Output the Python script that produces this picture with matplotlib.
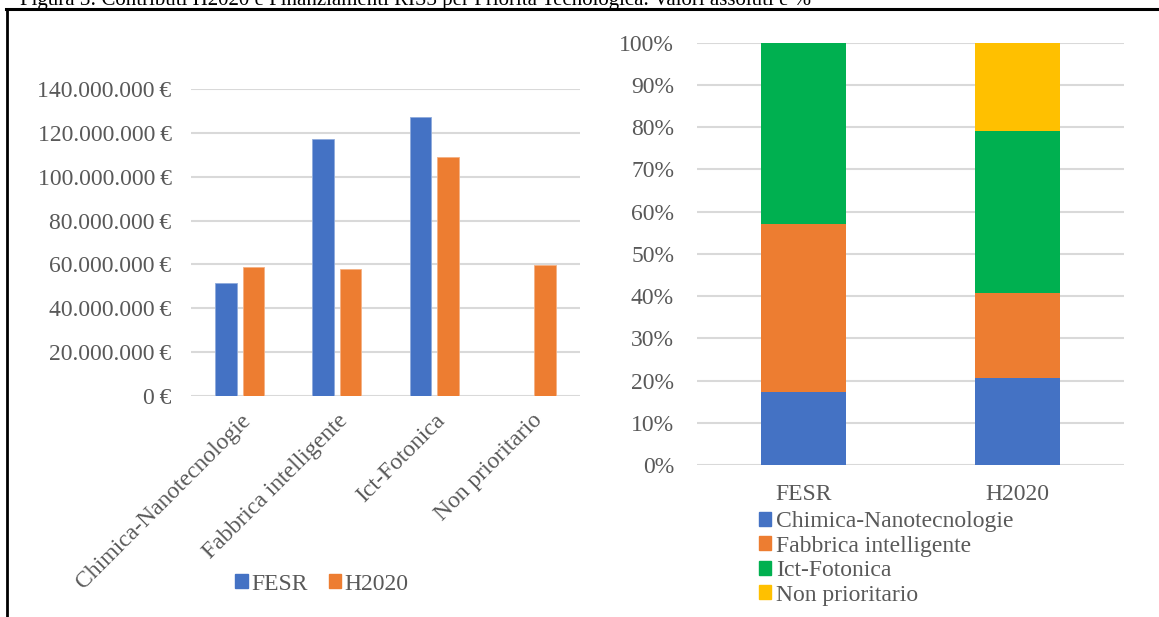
import numpy as np
import matplotlib
matplotlib.use("Agg")
import matplotlib.pyplot as plt
from matplotlib.patches import Patch
from matplotlib.lines import Line2D
from matplotlib.ticker import FuncFormatter, MultipleLocator

plt.rcParams['font.family'] = ['Liberation Serif', 'DejaVu Serif']

# dati
priorita = ['Chimica-Nanotecnologie', 'Fabbrica intelligente', 'Ict-Fotonica', 'Non prioritario']
fonti = ['FESR', 'H2020']
fesr = [51.4e6, 117.3e6, 127.2e6, 0.0]
h2020 = [58.8e6, 57.7e6, 109.2e6, 59.6e6]

colori_fonti = ['#4472C4', '#ED7D31']
colori_priorita = ['#4472C4', '#ED7D31', '#00B050', '#FFC000']
grigio_testo = '#595959'
grigio_griglia = '#D9D9D9'
fs = 17

titolo = 'Figura 3: Contributi H2020 e Finanziamenti RIS3 per Priorità Tecnologica. Valori assoluti e %'

W, H = 1159, 617
fig = plt.figure(figsize=(W / 100, H / 100), dpi=100)

# cornice e titolo tagliato
fig.add_artist(Line2D([7 / W, 7 / W], [0, 1 - 9 / H], color='black', lw=2))
fig.add_artist(Line2D([6 / W, 1], [1 - 9 / H, 1 - 9 / H], color='black', lw=2.2))
fig.text(20 / W, 1 - 4.5 / H, titolo, fontsize=15, color='black', va='baseline', ha='left')

# --- grafico a sinistra: valori assoluti ---
ax1 = fig.add_axes([191 / W, 1 - 396 / H, 389 / W, 307 / H])
x = np.arange(len(priorita))
larg = 0.22
off = 0.141
ax1.bar(x - off, fesr, larg, color=colori_fonti[0], edgecolor='#8FAADC', linewidth=0.6, zorder=3)
ax1.bar(x + off, h2020, larg, color=colori_fonti[1], edgecolor='#F4B183', linewidth=0.6, zorder=3)
ax1.set_xlim(-0.5, len(priorita) - 0.5)
ax1.set_ylim(0, 140e6)
ax1.yaxis.set_major_locator(MultipleLocator(20e6))


def euro(v, pos):
    s = f"{int(round(v)):,}".replace(',', '.')
    return s + '\u2009€'


ax1.yaxis.set_major_formatter(FuncFormatter(euro))
ax1.set_xticks(x)
ax1.set_xticklabels(priorita, rotation=45, ha='right', rotation_mode='anchor')
ax1.grid(axis='y', color=grigio_griglia, lw=1.5, zorder=0)
ax1.set_axisbelow(True)
for s in ax1.spines.values():
    s.set_visible(False)
ax1.tick_params(axis='both', length=0, labelsize=fs, labelcolor=grigio_testo)
ax1.tick_params(axis='y', pad=14)
ax1.tick_params(axis='x', pad=10)

fig.legend([Patch(color=c) for c in colori_fonti], fonti, loc='center',
           bbox_to_anchor=(322 / W, 1 - 584 / H), ncol=2, frameon=False,
           fontsize=fs, labelcolor=grigio_testo, handlelength=0.52, handleheight=0.52,
           handletextpad=0.15, columnspacing=0.9)

# --- grafico a destra: percentuali ---
ax2 = fig.add_axes([697 / W, 1 - 465 / H, 427 / W, 422.3 / H])
tab = np.array([fesr, h2020]).T  # righe = priorita, colonne = fonti
quote = tab / tab.sum(axis=0)
xs = np.arange(len(fonti))
base = np.zeros(len(fonti))
for i, nome in enumerate(priorita):
    ax2.bar(xs, quote[i], 0.4, bottom=base, color=colori_priorita[i], zorder=3)
    base += quote[i]
ax2.set_xlim(-0.5, len(fonti) - 0.5)
ax2.set_ylim(0, 1)
ax2.yaxis.set_major_locator(MultipleLocator(0.1))
ax2.yaxis.set_major_formatter(FuncFormatter(lambda v, p: f"{v * 100:.0f}%"))
ax2.set_xticks(xs)
ax2.set_xticklabels(fonti)
ax2.grid(axis='y', color=grigio_griglia, lw=1.5, zorder=0)
ax2.set_axisbelow(True)
for s in ax2.spines.values():
    s.set_visible(False)
ax2.tick_params(axis='both', length=0, labelsize=fs, labelcolor=grigio_testo)
ax2.tick_params(axis='y', pad=16.5)
ax2.tick_params(axis='x', pad=14)

fig.legend([Patch(color=c) for c in colori_priorita], priorita, loc='upper left',
           bbox_to_anchor=(759 / W, 1 - 511 / H), ncol=1, frameon=False,
           fontsize=fs, labelcolor=grigio_testo, handlelength=0.52, handleheight=0.52,
           handletextpad=0.2, labelspacing=0.15, borderpad=0, borderaxespad=0)

fig.savefig('out.png', dpi=100)
